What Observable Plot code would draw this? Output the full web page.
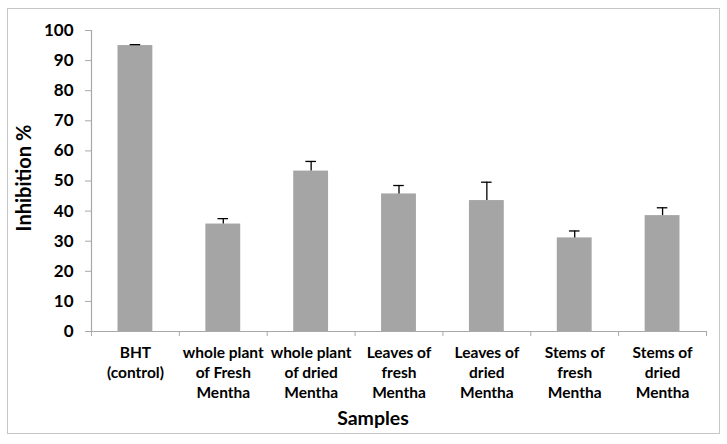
<!DOCTYPE html>
<html>
<head>
<meta charset="utf-8">
<script src="https://cdn.jsdelivr.net/npm/d3@7"></script>
<script src="https://cdn.jsdelivr.net/npm/@observablehq/plot@0.6"></script>
<style>
  html, body { margin: 0; padding: 0; background: #fff; }
  #wrap { position: relative; width: 727px; height: 444px; }
  #border { position: absolute; left: 7px; top: 8px; width: 711px; height: 424px; border: 1.5px solid #c6c6c6; pointer-events: none; }
  svg { font-family: Lato, "Open Sans", sans-serif; }
</style>
</head>
<body>
<div id="wrap"><div id="border"></div></div>
<script>
const categories = ["BHT\n(control)", "whole plant\nof Fresh\nMentha", "whole plant\nof dried\nMentha", "Leaves of\nfresh\nMentha", "Leaves of\ndried\nMentha", "Stems of\nfresh\nMentha", "Stems of\ndried\nMentha"];
const inhibition = [95.0, 35.7, 53.3, 45.7, 43.5, 31.1, 38.5];
const errors = [0.3, 1.8, 3.2, 2.8, 6.1, 2.3, 2.6];
const yTicks = [0, 10, 20, 30, 40, 50, 60, 70, 80, 90, 100];

const data = categories.map((c, i) => ({i, label: c, value: inhibition[i], err: errors[i]}));
const boundaries = d3.range(categories.length + 1);
const capHalf = 0.06;

const chart = Plot.plot({
  width: 727,
  height: 444,
  marginLeft: 91,
  marginRight: 21,
  marginTop: 30,
  marginBottom: 113,
  style: {fontFamily: "Lato, 'Open Sans', sans-serif", background: "transparent"},
  x: {type: "linear", domain: [0, categories.length]},
  y: {domain: [0, 100]},
  marks: [
    Plot.rectY(data, {x1: "i", x2: d => d.i + 1, y: "value", fill: "#a5a5a5", insetLeft: 26.5, insetRight: 26.5}),
    Plot.ruleX(data, {x: d => d.i + 0.5, y1: "value", y2: d => d.value + d.err, stroke: "#000", strokeWidth: 1.3}),
    Plot.ruleY(data, {y: d => d.value + d.err, x1: d => d.i + 0.5 - capHalf, x2: d => d.i + 0.5 + capHalf, stroke: "#000", strokeWidth: 1.3}),
    Plot.ruleX([0], {stroke: "#a8a8a8", strokeWidth: 1.2}),
    Plot.ruleY([0], {stroke: "#a8a8a8", strokeWidth: 1.2}),
    Plot.axisY({ticks: yTicks, tickSize: 6, tickPadding: 12, stroke: "#a8a8a8", fill: "#000", fontSize: 17, fontWeight: "bold", label: null}),
    Plot.axisX({ticks: boundaries, tickSize: 5, tickFormat: () => "", stroke: "#a8a8a8", label: null}),
    Plot.axisX({ticks: data.map(d => d.i + 0.5), tickSize: 0, tickPadding: 12, tickFormat: (v) => categories[Math.floor(v)], fill: "#000", fontSize: 15.5, fontWeight: "bold", lineHeight: 1.29, label: null}),
    Plot.text(["Inhibition %"], {frameAnchor: "left", textAnchor: "middle", lineAnchor: "middle", dx: -67, dy: -3, rotate: -90, fontSize: 20, fontWeight: "bold", fill: "#000"}),
    Plot.text(["Samples"], {frameAnchor: "bottom", lineAnchor: "middle", dx: -26, dy: 87, fontSize: 19.5, fontWeight: "bold", fill: "#000"})
  ]
});
document.getElementById("wrap").prepend(chart);
</script>
</body>
</html>
